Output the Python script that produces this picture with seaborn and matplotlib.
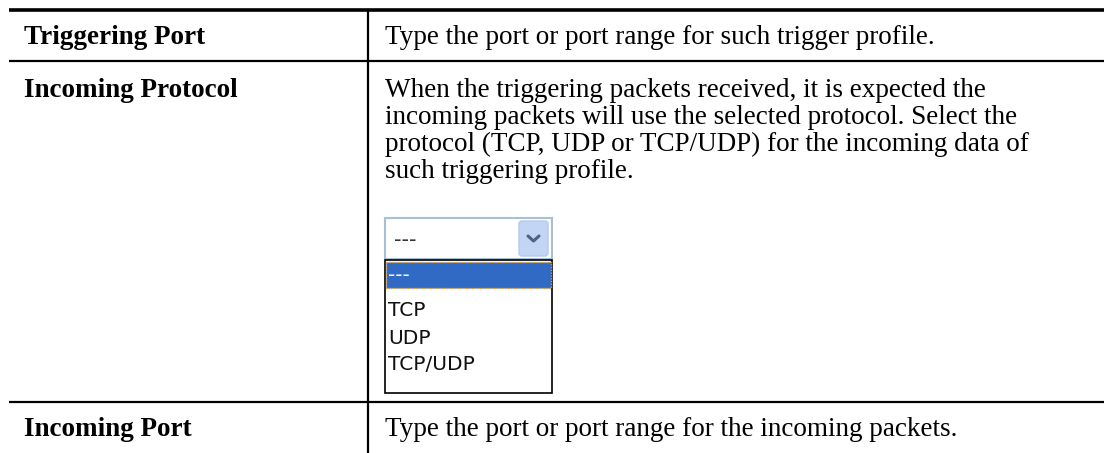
import matplotlib
matplotlib.use('Agg')
import matplotlib.pyplot as plt
import matplotlib.patches as mpatches
import seaborn as sns

# table content
row_names = ['Triggering Port', 'Incoming Protocol', 'Incoming Port']
row_text = [
    ['Type the port or port range for such trigger profile.'],
    ['When the triggering packets received, it is expected the',
     'incoming packets will use the selected protocol. Select the',
     'protocol (TCP, UDP or TCP/UDP) for the incoming data of',
     'such triggering profile.'],
    ['Type the port or port range for the incoming packets.'],
]
row_baselines = [44, 97, 436]
row_lines = [61, 402]
dropdown_value = '---'
dropdown_options = ['---', 'TCP', 'UDP', 'TCP/UDP']
option_y = [275, 311, 338, 365]

sns.set_theme(style='white')
plt.rcParams['font.family'] = ['Liberation Serif', 'DejaVu Serif']

W, H = 1104, 453
fig = plt.figure(figsize=(W / 100, H / 100), dpi=100)
ax = fig.add_axes([0, 0, 1, 1])
ax.set_xlim(0, W)
ax.set_ylim(H, 0)
ax.axis('off')

# grid lines
ax.hlines(10, 9, W, color='black', lw=2.6)
ax.hlines(row_lines, 9, W, color='black', lw=1.6)
ax.vlines(368, 10, H, color='black', lw=1.6)

# left column (bold) and right column text
line_gap = 27
for name, lines, y in zip(row_names, row_text, row_baselines):
    ax.text(24, y, name, fontsize=19.5, fontweight='bold', va='baseline', ha='left', color='black')
    for i, ln in enumerate(lines):
        ax.text(385, y + i * line_gap, ln, fontsize=19.5, va='baseline', ha='left', color='black')

# dropdown select box
ax.add_patch(mpatches.Rectangle((385, 218), 167, 41, facecolor='white', edgecolor='#a9bfd6', lw=1.5))
ax.add_patch(mpatches.FancyBboxPatch((519, 221), 29, 35, boxstyle='round,pad=0,rounding_size=3',
                                     facecolor='#c3d5f5', edgecolor='#b4c8ee', lw=1))
ax.plot([528, 533.5, 539], [236, 241, 236], color='#4d6185', lw=2.2, solid_capstyle='round')
ax.text(394, 240, dropdown_value, fontsize=15, family='DejaVu Sans', va='center', ha='left', color='#333333')

# dropdown list
ax.add_patch(mpatches.Rectangle((385, 260), 167, 133, facecolor='white', edgecolor='black', lw=1.2))
ax.add_patch(mpatches.Rectangle((386, 262), 165, 26, facecolor='#316ac5', edgecolor='#e0a030',
                                lw=1, linestyle=(0, (1, 1))))
for opt, y in zip(dropdown_options, option_y):
    col = 'white' if opt == dropdown_value else '#111111'
    ax.text(388, y, opt, fontsize=14.5, family='DejaVu Sans', va='center', ha='left', color=col)

fig.savefig('out.png', dpi=100, facecolor='white')
